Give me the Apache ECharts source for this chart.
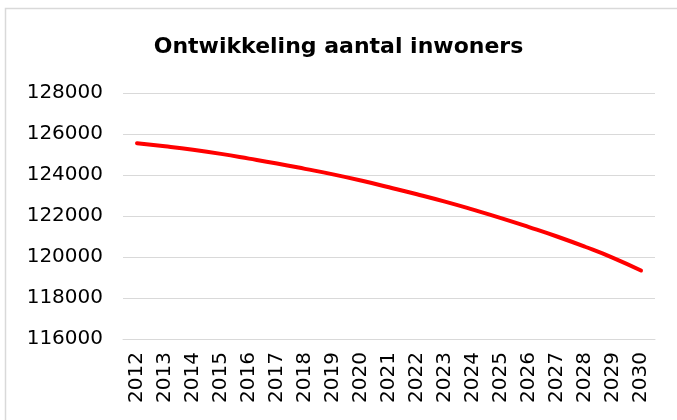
<!DOCTYPE html>
<html>
<head>
<meta charset="utf-8">
<script src="https://cdn.jsdelivr.net/npm/echarts@6/dist/echarts.min.js"></script>
<style>
html,body{margin:0;padding:0;background:#fff;}
#c{width:677px;height:420px;}
</style>
</head>
<body>
<div id="c"></div>
<script>
var titleText = 'Ontwikkeling aantal inwoners';
var years = ['2012','2013','2014','2015','2016','2017','2018','2019','2020','2021','2022','2023','2024','2025','2026','2027','2028','2029','2030'];
var inwoners = [125550,125400,125230,125030,124800,124560,124300,124030,123730,123400,123060,122700,122310,121900,121460,121000,120500,119960,119340];
var yMin = 116000, yMax = 128000, yStep = 2000;

var chart = echarts.init(document.getElementById('c'), null, {renderer:'canvas'});
var font = 'DejaVu Sans, sans-serif';
chart.setOption({
  animation:false,
  backgroundColor:'#ffffff',
  title:{
    text:titleText, left:'center', top:31,
    textStyle:{fontFamily:font, fontSize:22, fontWeight:'bold', color:'#000'}
  },
  graphic:[{
    type:'rect', shape:{x:5.5, y:8.5, width:700, height:450},
    style:{fill:'none', stroke:'#d9d9d9', lineWidth:1.5}, silent:true, z:-1
  }],
  grid:{left:123, right:22, top:93, bottom:81, containLabel:false},
  xAxis:{
    type:'category', data:years, boundaryGap:true,
    axisLine:{show:true, lineStyle:{color:'#d9d9d9', width:1}},
    axisTick:{show:false},
    axisLabel:{rotate:90, interval:0, margin:13, fontFamily:font, fontSize:20, color:'#000'}
  },
  yAxis:{
    type:'value', min:yMin, max:yMax, interval:yStep,
    axisLine:{show:false}, axisTick:{show:false},
    splitLine:{lineStyle:{color:'#d9d9d9', width:1}},
    axisLabel:{margin:20, fontFamily:font, fontSize:20, color:'#000', formatter:function(v){return String(v);}}
  },
  series:[{
    type:'line', data:inwoners, smooth:true, symbol:'none',
    lineStyle:{color:'#ff0000', width:4, cap:'round', join:'round'}
  }]
});
</script>
</body>
</html>
